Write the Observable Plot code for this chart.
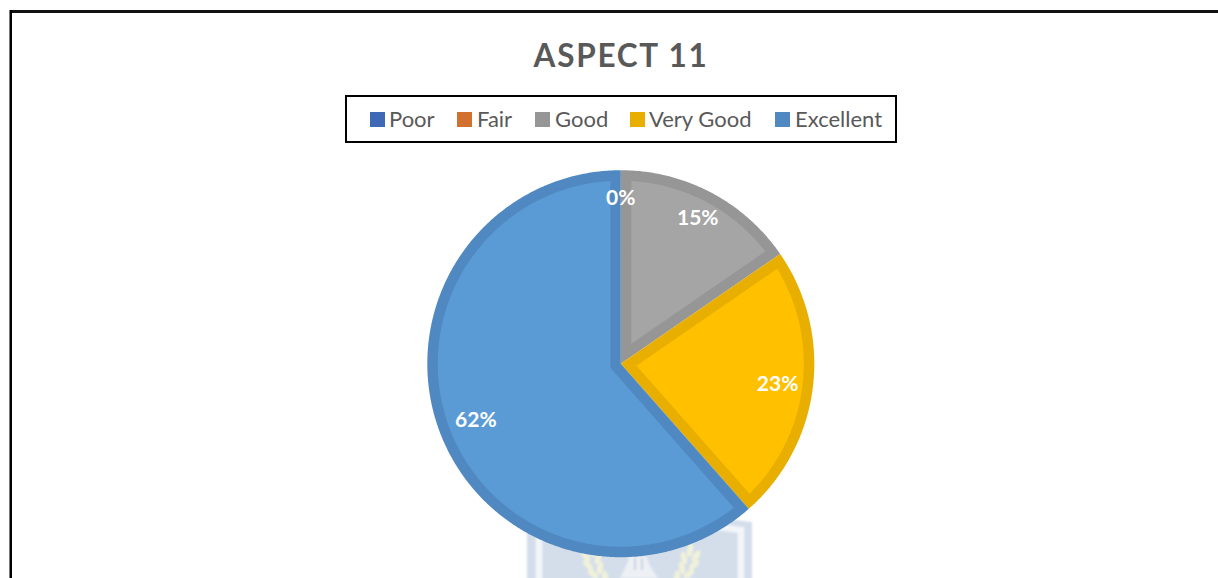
<!DOCTYPE html>
<html>
<head>
<meta charset="utf-8">
<script src="https://cdn.jsdelivr.net/npm/d3@7"></script>
<script src="https://cdn.jsdelivr.net/npm/@observablehq/plot@0.6"></script>
<style>
html,body{margin:0;padding:0;background:#fff;overflow:hidden}
#page{position:relative;width:1218px;height:578px;overflow:hidden;font-family:Lato,"Open Sans",sans-serif;color:#595959}
#frameTop{position:absolute;left:9px;right:0;top:10px;height:2.5px;background:#111}
#frameLeft{position:absolute;left:8.5px;top:10px;bottom:0;width:3.5px;background:linear-gradient(to right,#777 0 1px,#fff 1px 1.5px,#000 1.5px)}
#title{position:absolute;left:0;width:1242px;top:34px;text-align:center;font-size:31.5px;font-weight:700;letter-spacing:1.75px;line-height:42px}
#legend{position:absolute;left:345px;top:95px;width:548px;height:44px;border:2px solid #000;background:#fff;box-sizing:content-box}
.sw{position:absolute;top:15px;width:15px;height:15px}
.lb{position:absolute;top:8px;font-size:22px;line-height:28px;white-space:nowrap}
#wm{position:absolute;left:0;top:0}
#chart{position:absolute;left:0;top:160px}
</style>
</head>
<body>
<div id="page">
<svg id="wm" width="1218" height="578">
  <defs>
    <filter id="soft"><feGaussianBlur stdDeviation="0.8"/></filter>
    <g id="laurel" fill="#f1f2d8">
      <ellipse cx="690" cy="550" rx="3" ry="7" transform="rotate(10 690 550)"/>
      <ellipse cx="696" cy="556" rx="3" ry="6.5" transform="rotate(35 696 556)"/>
      <ellipse cx="684" cy="558" rx="3" ry="6.5" transform="rotate(-15 684 558)"/>
      <ellipse cx="694" cy="565" rx="3" ry="6.5" transform="rotate(45 694 565)"/>
      <ellipse cx="682" cy="568" rx="3" ry="6.5" transform="rotate(-10 682 568)"/>
      <ellipse cx="689" cy="574" rx="3" ry="6.5" transform="rotate(50 689 574)"/>
      <ellipse cx="677" cy="577" rx="3" ry="6.5" transform="rotate(5 677 577)"/>
    </g>
  </defs>
  <g filter="url(#soft)">
    <path d="M527 522 L640 508 L752 522 L752 590 L527 590Z" fill="#d4deeb"/>
    <path d="M539 590 L539 530 L640 516 L741 530 L741 590" fill="none" stroke="#f3f5f9" stroke-width="6.5"/>
    <use href="#laurel"/>
    <use href="#laurel" transform="translate(1282,0) scale(-1,1)"/>
    <path d="M630 556 L646 556 L650 566 L658 578 L620 578 L626 566Z" fill="#edf0f4"/>
    <path d="M634 558 L636 558 L636 570 L634 570Z M641 558 L643 558 L643 570 L641 570Z" fill="#c9d3e2"/>
  </g>
</svg>
<div id="frameTop"></div>
<div id="frameLeft"></div>
<div id="title"></div>
<div id="legend"></div>
<div id="chart"></div>
</div>
<script>
const titleText = "ASPECT 11";
const categories = ["Poor", "Fair", "Good", "Very Good", "Excellent"];
const shares = [0, 0, 15.4, 23.1, 61.5];
const legendColors = ["#3f68b5", "#d2702f", "#969696", "#e8ae00", "#5089c2"];
const fillColors = ["#5b9bd5", "#ed7d31", "#a5a5a5", "#ffc000", "#5b9bd5"];
const edgeColors = ["#3f68b5", "#d2702f", "#969696", "#e8ae00", "#5089c2"];
const legendSwatchX = [370, 457, 535, 630, 775];
const legendTextX = [389, 477, 555, 649, 795];

// drawing settings
const R = 193.5, band = 10.5, cx = 620.3, cy = 363.2, top0 = 160;
const labelRadius = [167, 167, 165.5, 158, 155];

document.getElementById("title").textContent = titleText;
const legend = document.getElementById("legend");
categories.forEach((c, i) => {
  const s = document.createElement("div");
  s.className = "sw";
  s.style.left = (legendSwatchX[i] - 347) + "px";
  s.style.background = legendColors[i];
  legend.appendChild(s);
  const t = document.createElement("div");
  t.className = "lb";
  t.style.left = (legendTextX[i] - 347) + "px";
  t.textContent = c;
  legend.appendChild(t);
});

// slices from the shares, clockwise from 12 o'clock
const total = d3.sum(shares);
let acc = 0;
const slices = categories.map((name, i) => {
  const a0 = acc / total * 2 * Math.PI;
  acc += shares[i];
  const a1 = acc / total * 2 * Math.PI;
  return {name, i, a0, a1, share: shares[i]};
});
const pt = (a, r) => ({x: r * Math.sin(a), y: r * Math.cos(a)});
const STEP = Math.PI / 360;
function arcPoints(a0, a1, r) {
  const n = Math.max(2, Math.ceil((a1 - a0) / STEP));
  return d3.range(n + 1).map(k => pt(a0 + (a1 - a0) * k / n, r));
}
const outer = s => [{x: 0, y: 0}, ...arcPoints(s.a0, s.a1, R), {x: 0, y: 0}];
const inner = s => {
  const half = (s.a1 - s.a0) / 2, mid = (s.a0 + s.a1) / 2;
  const d = band / Math.sin(half), ri = R - band, off = Math.asin(band / ri);
  const apex = pt(mid, d);
  return [apex, ...arcPoints(s.a0 + off, s.a1 - off, ri), apex];
};
const visible = slices.filter(s => s.share > 0);
const seen = new Set();
const labels = slices.filter(s => {
  if (seen.has(s.a1)) return false;
  seen.add(s.a1);
  return true;
}).map(s => {
  const mid = (s.a0 + s.a1) / 2;
  return {...pt(mid, labelRadius[s.i]), text: Math.round(s.share) + "%"};
});

const chart = Plot.plot({
  width: 1218,
  height: 418,
  margin: 0,
  style: {background: "transparent", overflow: "visible"},
  x: {domain: [-R, R], range: [cx - R, cx + R], axis: null},
  y: {domain: [-R, R], range: [cy - top0 + R, cy - top0 - R], axis: null},
  marks: [
    ...visible.flatMap(s => [
      Plot.line(outer(s), {x: "x", y: "y", fill: edgeColors[s.i], stroke: null, curve: "linear"}),
      Plot.line(inner(s), {x: "x", y: "y", fill: fillColors[s.i], stroke: null, curve: "linear"})
    ]),
    Plot.text(labels, {
      x: "x", y: "y", text: "text", fill: "#fff", fontSize: 21, fontWeight: 700, dy: 1.5,
      fontFamily: "Lato, 'Open Sans', sans-serif"
    })
  ]
});
document.getElementById("chart").appendChild(chart);
</script>
</body>
</html>
